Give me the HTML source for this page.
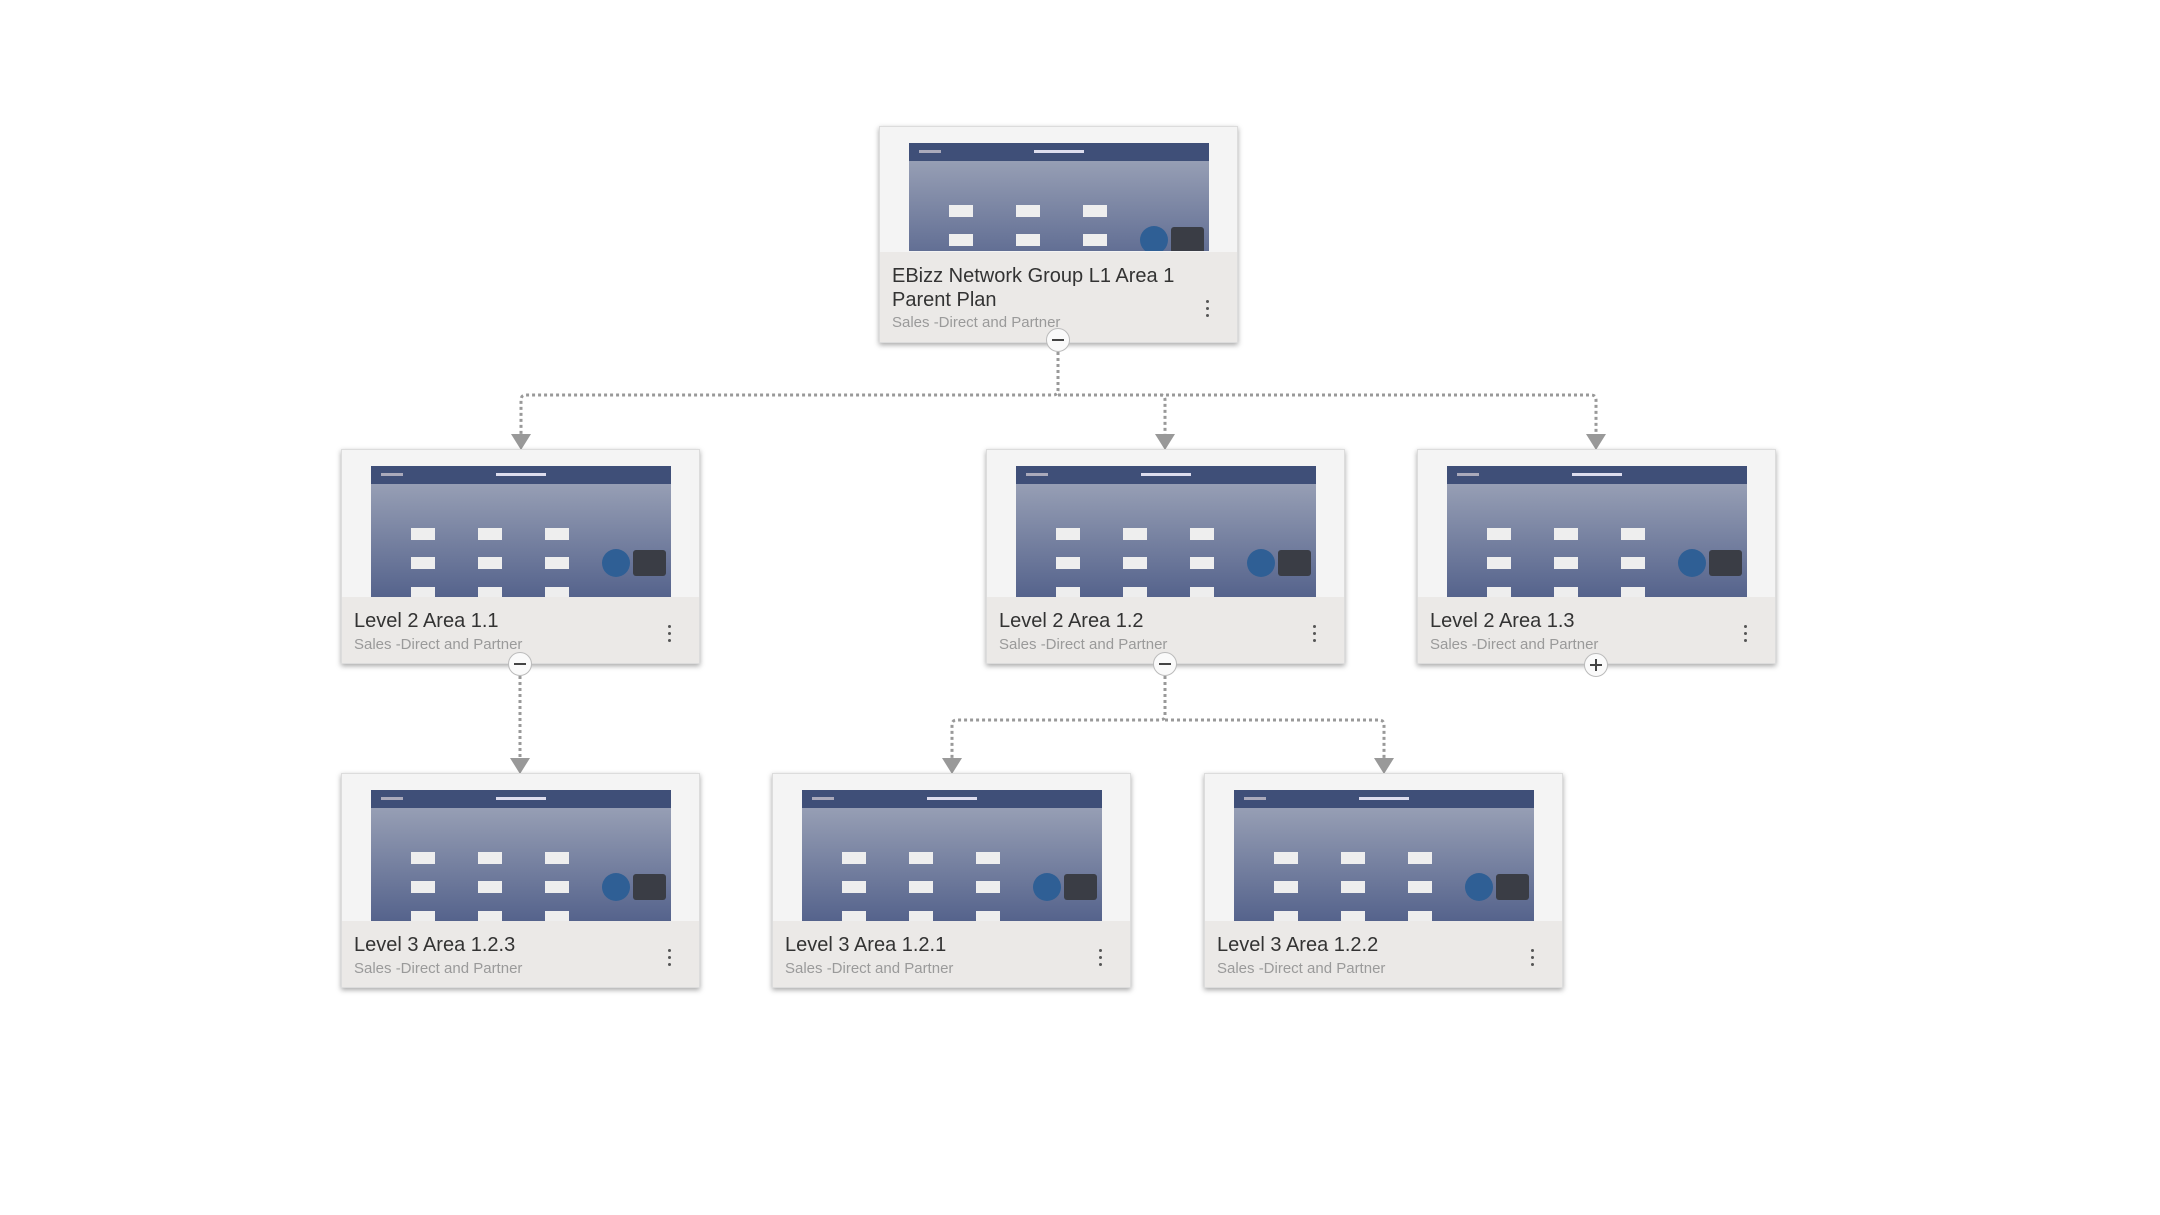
<!DOCTYPE html>
<html><head><meta charset="utf-8">
<style>
html,body{margin:0;padding:0;background:#fff;}
body{width:2160px;height:1215px;position:relative;overflow:hidden;font-family:"Liberation Sans",sans-serif;}
.card{position:absolute;width:359px;height:215px;background:#f4f4f4;box-shadow:0 2px 5px rgba(0,0,0,0.35);border:1px solid #dcdcdc;box-sizing:border-box;}
.card.root{height:217px;}
.thumb{position:absolute;left:29px;top:16px;width:300px;height:131px;overflow:hidden;}
.root .thumb{height:108px;}
.foot{position:absolute;left:0;right:0;bottom:0;height:66px;background:#ebe9e7;}
.root .foot{height:90px;}
.t{position:absolute;left:12px;top:12px;font-size:20px;color:#333;line-height:24px;}
.s{position:absolute;left:12px;top:39px;font-size:15px;color:#9a9a9a;}
.root .s{top:62px;}
.dots{position:absolute;right:28px;top:28px;width:3px;}
.dots i{display:block;width:3px;height:3px;background:#555;border-radius:50%;margin-bottom:4px;}
.btn{position:absolute;width:24px;height:24px;border-radius:50%;background:#fafafa;border:1px solid #bbb;box-sizing:border-box;}
.btn:before{content:"";position:absolute;left:5px;top:10px;width:12px;height:2px;background:#444;}
.btn.plus:after{content:"";position:absolute;left:10px;top:5px;width:2px;height:12px;background:#444;}
</style></head><body>
<svg width="0" height="0" style="position:absolute">
<defs>
<linearGradient id="g" x1="0" y1="0" x2="0" y2="1"><stop offset="0" stop-color="#a1a8bb"/><stop offset="1" stop-color="#55638c"/></linearGradient>
<symbol id="th" viewBox="0 0 300 131">
<rect width="300" height="131" fill="url(#g)"/>
<rect x="0" y="0" width="300" height="18" fill="#3f4f78"/>
<rect x="10" y="7" width="22" height="3" fill="#aab"/>
<rect x="125" y="7" width="50" height="3" fill="#dde"/>
<g fill="#eeeeee">
<rect x="40" y="62" width="24" height="12"/><rect x="107" y="62" width="24" height="12"/><rect x="174" y="62" width="24" height="12"/>
<rect x="40" y="91" width="24" height="12"/><rect x="107" y="91" width="24" height="12"/><rect x="174" y="91" width="24" height="12"/>
<rect x="40" y="121" width="24" height="12"/><rect x="107" y="121" width="24" height="12"/><rect x="174" y="121" width="24" height="12"/>
</g>
<circle cx="245" cy="97" r="14" fill="#2f5f95"/>
<rect x="262" y="84" width="33" height="26" rx="3" fill="#3a3d45"/>
</symbol>
</defs>
</svg>

<svg style="position:absolute;left:0;top:0" width="2160" height="1215">
<g fill="none" stroke="#999" stroke-width="3" stroke-dasharray="3 3">
<path d="M1058 352 V390 Q1058 395 1053 395 H526 Q521 395 521 400 V440"/>
<path d="M1058 395 H1160 Q1165 395 1165 400 V440"/>
<path d="M1160 395 H1591 Q1596 395 1596 400 V440"/>
<path d="M520 676 V764"/>
<path d="M1165 676 V715 Q1165 720 1160 720 H957 Q952 720 952 725 V764"/>
<path d="M1165 720 H1379 Q1384 720 1384 725 V764"/>
</g>
<g fill="#999">
<path d="M511 434 L531 434 L521 450Z"/>
<path d="M1155 434 L1175 434 L1165 450Z"/>
<path d="M1586 434 L1606 434 L1596 450Z"/>
<path d="M510 758 L530 758 L520 774Z"/>
<path d="M942 758 L962 758 L952 774Z"/>
<path d="M1374 758 L1394 758 L1384 774Z"/>
</g>
</svg>

<div class="card root" style="left:879px;top:126px;">
<svg class="thumb" viewBox="0 0 300 108" preserveAspectRatio="xMidYMin slice"><use href="#th" width="300" height="131"/></svg>
<div class="foot"><div class="t">EBizz Network Group L1 Area 1<br>Parent Plan</div><div class="s">Sales -Direct and Partner</div><div class="dots" style="top:48px"><i></i><i></i><i></i></div></div>
</div>

<div class="card" style="left:341px;top:449px;"><svg class="thumb"><use href="#th" width="300" height="131"/></svg>
<div class="foot"><div class="t">Level 2 Area 1.1</div><div class="s">Sales -Direct and Partner</div><div class="dots"><i></i><i></i><i></i></div></div></div>
<div class="card" style="left:986px;top:449px;"><svg class="thumb"><use href="#th" width="300" height="131"/></svg>
<div class="foot"><div class="t">Level 2 Area 1.2</div><div class="s">Sales -Direct and Partner</div><div class="dots"><i></i><i></i><i></i></div></div></div>
<div class="card" style="left:1417px;top:449px;"><svg class="thumb"><use href="#th" width="300" height="131"/></svg>
<div class="foot"><div class="t">Level 2 Area 1.3</div><div class="s">Sales -Direct and Partner</div><div class="dots"><i></i><i></i><i></i></div></div></div>

<div class="card" style="left:341px;top:773px;"><svg class="thumb"><use href="#th" width="300" height="131"/></svg>
<div class="foot"><div class="t">Level 3 Area 1.2.3</div><div class="s">Sales -Direct and Partner</div><div class="dots"><i></i><i></i><i></i></div></div></div>
<div class="card" style="left:772px;top:773px;"><svg class="thumb"><use href="#th" width="300" height="131"/></svg>
<div class="foot"><div class="t">Level 3 Area 1.2.1</div><div class="s">Sales -Direct and Partner</div><div class="dots"><i></i><i></i><i></i></div></div></div>
<div class="card" style="left:1204px;top:773px;"><svg class="thumb"><use href="#th" width="300" height="131"/></svg>
<div class="foot"><div class="t">Level 3 Area 1.2.2</div><div class="s">Sales -Direct and Partner</div><div class="dots"><i></i><i></i><i></i></div></div></div>

<div class="btn" style="left:1046px;top:328px;"></div>
<div class="btn" style="left:508px;top:652px;"></div>
<div class="btn" style="left:1153px;top:652px;"></div>
<div class="btn plus" style="left:1584px;top:653px;"></div>
</body></html>
